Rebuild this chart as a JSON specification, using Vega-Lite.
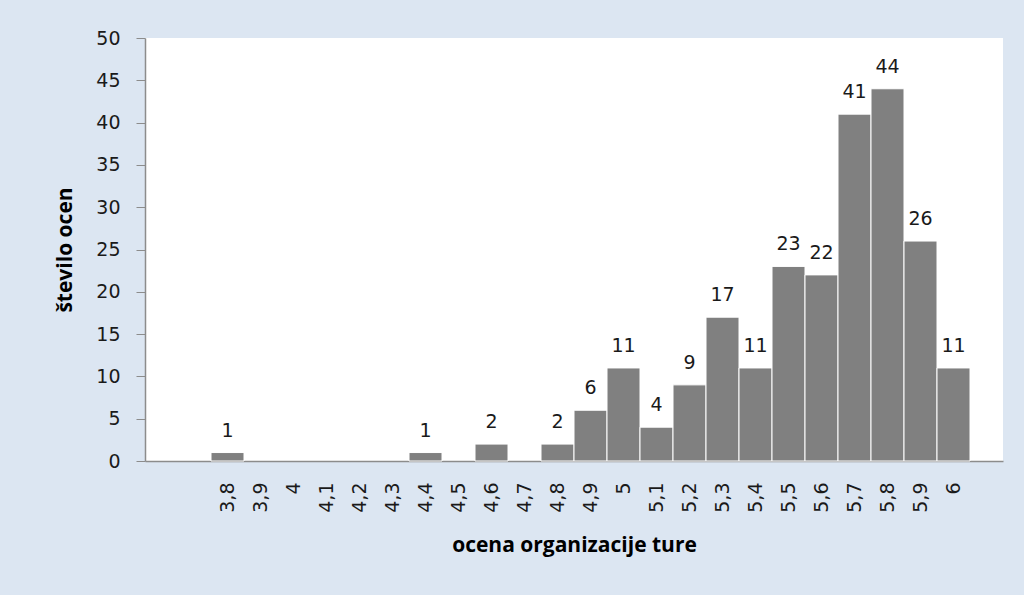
{
  "$schema": "https://vega.github.io/schema/vega-lite/v6.json",
  "width": 858,
  "height": 423,
  "autosize": "none",
  "padding": {"left": 145, "top": 38, "right": 21, "bottom": 134},
  "background": "#dce6f2",
  "view": {"fill": "white", "stroke": null},
  "data": {
    "values": [
      {"ocena": "3,8", "n": 1},
      {"ocena": "4,4", "n": 1},
      {"ocena": "4,6", "n": 2},
      {"ocena": "4,8", "n": 2},
      {"ocena": "4,9", "n": 6},
      {"ocena": "5", "n": 11},
      {"ocena": "5,1", "n": 4},
      {"ocena": "5,2", "n": 9},
      {"ocena": "5,3", "n": 17},
      {"ocena": "5,4", "n": 11},
      {"ocena": "5,5", "n": 23},
      {"ocena": "5,6", "n": 22},
      {"ocena": "5,7", "n": 41},
      {"ocena": "5,8", "n": 44},
      {"ocena": "5,9", "n": 26},
      {"ocena": "6", "n": 11}
    ]
  },
  "encoding": {
    "x": {
      "field": "ocena",
      "type": "nominal",
      "sort": null,
      "scale": {
        "domain": ["3,6", "3,7", "3,8", "3,9", "4", "4,1", "4,2", "4,3", "4,4", "4,5", "4,6", "4,7", "4,8", "4,9", "5", "5,1", "5,2", "5,3", "5,4", "5,5", "5,6", "5,7", "5,8", "5,9", "6", "6,1"],
        "paddingInner": 0,
        "paddingOuter": 0
      },
      "axis": {
        "title": "ocena organizacije ture",
        "titleFont": "Open Sans",
        "titleFontWeight": "bold",
        "titleFontSize": 21,
        "titleColor": "#000000",
        "titlePadding": 22,
        "labelExpr": "(datum.label == '3,6' || datum.label == '3,7' || datum.label == '6,1') ? '' : datum.label",
        "labelAngle": 270,
        "labelAlign": "right",
        "labelBaseline": "middle",
        "labelFont": "DejaVu Sans",
        "labelFontSize": 19,
        "labelColor": "#1a1a1a",
        "labelPadding": 21,
        "ticks": false,
        "domainColor": "#8c8c8c",
        "domainWidth": 1.5,
        "grid": false
      }
    },
    "y": {
      "field": "n",
      "type": "quantitative",
      "scale": {"domain": [0, 50], "nice": false},
      "axis": {
        "title": "število ocen",
        "titleFont": "Open Sans",
        "titleFontWeight": "bold",
        "titleFontSize": 21,
        "titleColor": "#000000",
        "titlePadding": 20,
        "values": [0, 5, 10, 15, 20, 25, 30, 35, 40, 45, 50],
        "labelFont": "DejaVu Sans",
        "labelFontSize": 19,
        "labelColor": "#1a1a1a",
        "labelPadding": 16,
        "tickSize": 9,
        "tickColor": "#8c8c8c",
        "domainColor": "#8c8c8c",
        "domainWidth": 1.5,
        "grid": false
      }
    }
  },
  "layer": [
    {
      "mark": {"type": "bar", "color": "#808080", "stroke": "#ffffff", "strokeWidth": 1}
    },
    {
      "mark": {"type": "text", "baseline": "alphabetic", "dy": -16, "font": "DejaVu Sans", "fontSize": 19, "color": "#1a1a1a"},
      "encoding": {"text": {"field": "n", "type": "quantitative"}}
    }
  ]
}
